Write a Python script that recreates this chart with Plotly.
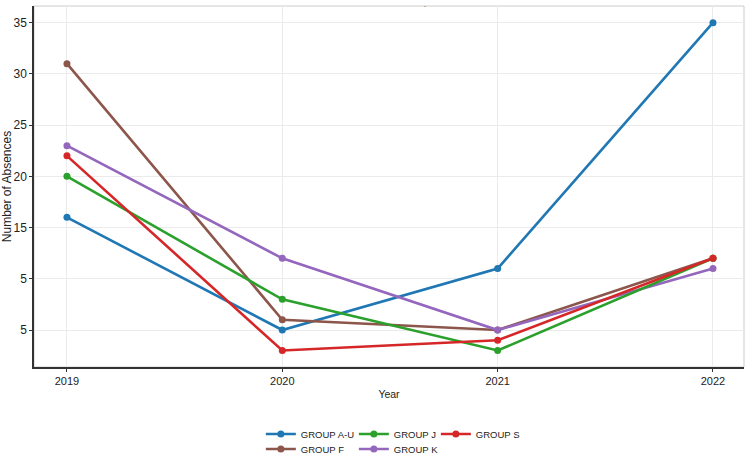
import plotly.graph_objects as go

years = [2019, 2020, 2021, 2022]
groups = ["GROUP A-U", "GROUP J", "GROUP S", "GROUP F", "GROUP K"]
values_au = [16, 5, 11, 35]
values_j = [20, 8, 3, 12]
values_s = [22, 3, 4, 12]
values_f = [31, 6, 5, 12]
values_k = [23, 12, 5, 11]
colors = ["#1f77b4", "#2ca02c", "#d62728", "#8c564b", "#9467bd"]
y_tickvals = [5, 10, 15, 20, 25, 30, 35]
y_ticktext = ["5", "5", "15", "20", "25", "30", "35"]
x_ticks = [2019, 2020, 2021, 2022]

series = [values_au, values_j, values_s, values_f, values_k]
legend_ids = ["legend", "legend2", "legend3", "legend4", "legend5"]
# legend slot positions (paper coords): column x, row y
legend_pos = [(0.3195, -0.1856), (0.4505, -0.1856), (0.566, -0.1856),
              (0.3195, -0.227), (0.4505, -0.227)]
order = [0, 3, 4, 1, 2]

fig = go.Figure()
for i in order:
    fig.add_trace(go.Scatter(
        x=years, y=series[i], name=groups[i], mode="lines+markers",
        line=dict(color=colors[i], width=2.6),
        marker=dict(color=colors[i], size=7),
        legend=legend_ids[i],
    ))

font = dict(family="Liberation Sans, Arial, sans-serif", size=11, color="#222222")
legends = {}
for i, lid in enumerate(legend_ids):
    lx, ly = legend_pos[i]
    legends[lid] = dict(orientation="v", yanchor="middle", y=ly, xanchor="left", x=lx,
                        font=dict(family="Liberation Sans, Arial, sans-serif", size=9.5, color="#222222"),
                        bgcolor="rgba(0,0,0,0)", itemwidth=30)

fig.update_layout(
    width=747, height=459,
    margin=dict(l=34, r=3, t=6, b=92, autoexpand=False),
    paper_bgcolor="white", plot_bgcolor="white",
    font=font,
    showlegend=True,
    **legends,
    xaxis=dict(
        range=[2018.847, 2022.144], tickvals=x_ticks, ticktext=[str(v) for v in x_ticks],
        showgrid=True, gridcolor="#ebebeb", gridwidth=1,
        showline=True, linecolor="#333333", linewidth=1.5, mirror=False,
        ticks="outside", ticklen=3, tickcolor="#333333",
        tickfont=dict(size=11),
        title=dict(text="Year", font=dict(size=10.5), standoff=5),
        zeroline=False,
    ),
    yaxis=dict(
        range=[1.39, 36.63], tickvals=y_tickvals, ticktext=y_ticktext,
        showgrid=True, gridcolor="#ebebeb", gridwidth=1,
        showline=True, linecolor="#333333", linewidth=1.5,
        ticks="outside", ticklen=3, tickcolor="#333333",
        tickfont=dict(size=12),
        title=dict(text="Number of Absences", font=dict(size=12), standoff=4),
        zeroline=False,
    ),
    shapes=[dict(type="rect", xref="paper", yref="paper", x0=0, x1=1, y0=0, y1=1,
                 line=dict(color="#cccccc", width=1), layer="below")],
    annotations=[dict(text=".", x=0.551, y=1.0, xref="paper", yref="paper",
                      yanchor="bottom", yshift=-4, showarrow=False, font=dict(size=7))],
)

fig.write_html("out.html")
